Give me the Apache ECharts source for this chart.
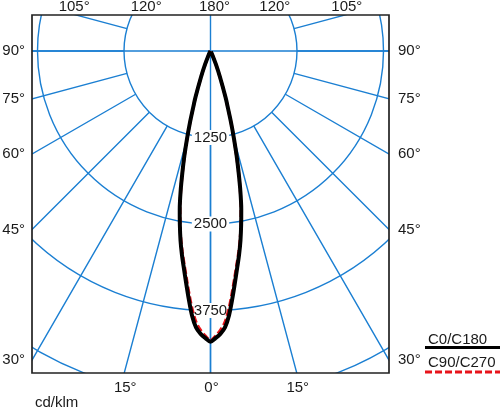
<!DOCTYPE html>
<html>
<head>
<meta charset="utf-8">
<style>
html,body{margin:0;padding:0;background:#fff;}
#chart{width:500px;height:409px;}
</style>
<script src="https://cdn.jsdelivr.net/npm/echarts@6/dist/echarts.min.js"></script>
</head>
<body>
<div id="chart"></div>
<script>
// ---- data ----
const gammaDeg   = [0, 1, 2, 3, 4, 5, 6, 7, 8, 9, 10, 11, 12, 13, 14, 15, 16, 17, 18, 20, 22, 25, 30, 35, 90, 180];
const c0c180     = [4200, 4150, 4090, 4000, 3830, 3600, 3370, 3160, 2970, 2770, 2550, 2330, 2080, 1810, 1560, 1310, 1080, 860, 700, 400, 210, 70, 10, 0, 0, 0];
const c90c270    = [4180, 4120, 4040, 3930, 3750, 3530, 3310, 3110, 2930, 2740, 2530, 2310, 2070, 1800, 1550, 1300, 1075, 855, 695, 395, 205, 70, 10, 0, 0, 0];
const seriesNames = ['C0/C180', 'C90/C270'];
const radiusLabels = [1250, 2500, 3750];
const sideAngles   = [90, 75, 60, 45, 30];
const topAngles    = [105, 120, 180];
const bottomAngles = [15, 0];
const unitLabel = 'cd/klm';

// ---- layout ----
const CX = 210.5, CY = 51;
const PX_PER_STEP = 86.5, STEP = 1250, RMAX = 5000;
const R_MAX_PX = PX_PER_STEP * RMAX / STEP;
const R_OUT = 400;
const FRAME = {l: 32, t: 15, r: 389, b: 373};
const BLUE = '#1b7fd2';
const TXT = '#1a1a1a';
const FONT = '"Liberation Sans", Arial, sans-serif';

// polar line data: left half angle = gamma, right half angle = 360 - gamma
function toPolar(vals) {
  const pts = [];
  for (let i = gammaDeg.length - 1; i >= 0; i--) pts.push([vals[i], gammaDeg[i]]);
  for (let i = 1; i < gammaDeg.length; i++) pts.push([vals[i], 360 - gammaDeg[i]]);
  return pts;
}

function rad(g) { return g * Math.PI / 180; }
const graphics = [];
const maskStyle = {fill: '#fff'};
graphics.push({type: 'rect', z: 50, shape: {x: 0, y: 0, width: FRAME.l, height: 409}, style: maskStyle, silent: true});
graphics.push({type: 'rect', z: 50, shape: {x: FRAME.r, y: 0, width: 500 - FRAME.r, height: 409}, style: maskStyle, silent: true});
graphics.push({type: 'rect', z: 50, shape: {x: 0, y: 0, width: 500, height: FRAME.t}, style: maskStyle, silent: true});
graphics.push({type: 'rect', z: 50, shape: {x: 0, y: FRAME.b, width: 500, height: 409 - FRAME.b}, style: maskStyle, silent: true});
graphics.push({type: 'rect', z: 60, shape: {x: FRAME.l, y: FRAME.t, width: FRAME.r - FRAME.l, height: FRAME.b - FRAME.t},
  style: {fill: null, stroke: '#222', lineWidth: 1.7}, silent: true});

function txt(x, y, s, align, vAlign) {
  graphics.push({type: 'text', z: 61, x: x, y: y,
    style: {text: s, fill: TXT, font: '15px ' + FONT, align: align, verticalAlign: vAlign || 'middle'}});
}
// angle labels where the radial lines meet the frame
sideAngles.forEach(g => {
  const dxL = CX - FRAME.l, dxR = FRAME.r - CX;
  const yL = g === 90 ? CY : CY + dxL / Math.tan(rad(g));
  const yR = g === 90 ? CY : CY + dxR / Math.tan(rad(g));
  txt(FRAME.l - 7, yL, g + '°', 'right');
  txt(FRAME.r + 9, yR, g + '°', 'left');
});
topAngles.forEach(g => {
  const dy = CY - FRAME.t;
  if (g === 180) { txt(CX + 4, 7, g + '°', 'center'); return; }
  const dx = dy * Math.tan(rad(180 - g));
  txt(CX - dx - 2, 7, g + '°', 'center');
  txt(CX + dx + 2, 7, g + '°', 'center');
});
bottomAngles.forEach(g => {
  const dy = FRAME.b - CY;
  if (g === 0) { txt(CX + 1, 388, g + '°', 'center'); return; }
  const dx = dy * Math.tan(rad(g));
  txt(CX - dx + 1, 388, g + '°', 'center');
  txt(CX + dx + 1, 388, g + '°', 'center');
});
txt(35, 403, unitLabel, 'left');

// legend
txt(428, 340, seriesNames[0], 'left');
graphics.push({type: 'line', z: 61, shape: {x1: 425, y1: 347.5, x2: 500, y2: 347.5}, style: {stroke: '#000', lineWidth: 3}});
txt(428, 363, seriesNames[1], 'left');
graphics.push({type: 'line', z: 61, shape: {x1: 425, y1: 372, x2: 500, y2: 372}, style: {stroke: '#e8141b', lineWidth: 3, lineDash: [7, 3]}});

const hidden = {show: false};
const option = {
  animation: false,
  backgroundColor: '#fff',
  polar: [
    {center: [CX, CY], radius: R_MAX_PX},
    {center: [CX, CY], radius: [PX_PER_STEP, R_OUT]}
  ],
  angleAxis: [
    {polarIndex: 0, type: 'value', min: 0, max: 360, interval: 90, startAngle: 270, clockwise: true,
      axisLine: hidden, axisTick: hidden, axisLabel: hidden,
      splitLine: {show: true, lineStyle: {color: BLUE, width: 1.4}}},
    {polarIndex: 1, type: 'value', min: 0, max: 360, interval: 15, startAngle: 270, clockwise: true,
      axisLine: hidden, axisTick: hidden, axisLabel: hidden,
      splitLine: {show: true, lineStyle: {color: BLUE, width: 1.4}}}
  ],
  radiusAxis: [
    {polarIndex: 0, type: 'value', min: 0, max: RMAX, interval: STEP,
      axisLine: hidden, axisTick: hidden,
      axisLabel: {show: true, margin: 0, align: 'center', verticalAlign: 'middle',
        color: TXT, fontSize: 15, fontFamily: FONT, backgroundColor: '#fff', padding: [0, 2],
        formatter: v => radiusLabels.indexOf(v) >= 0 ? String(v) : ''},
      splitLine: {show: true, lineStyle: {color: BLUE, width: 1.4}}},
    {polarIndex: 1, type: 'value', min: 0, max: 1,
      axisLine: hidden, axisTick: hidden, axisLabel: hidden, splitLine: hidden}
  ],
  series: [
    {name: seriesNames[1], type: 'line', coordinateSystem: 'polar', polarIndex: 0, data: toPolar(c90c270),
      smooth: 0.3, showSymbol: false, z: 3,
      lineStyle: {color: '#e8141b', width: 3, type: [7, 3]}},
    {name: seriesNames[0], type: 'line', coordinateSystem: 'polar', polarIndex: 0, data: toPolar(c0c180),
      smooth: 0.3, showSymbol: false, z: 4,
      lineStyle: {color: '#000', width: 4}}
  ],
  graphic: {elements: graphics}
};
const chart = echarts.init(document.getElementById('chart'));
chart.setOption(option);
</script>
</body>
</html>
